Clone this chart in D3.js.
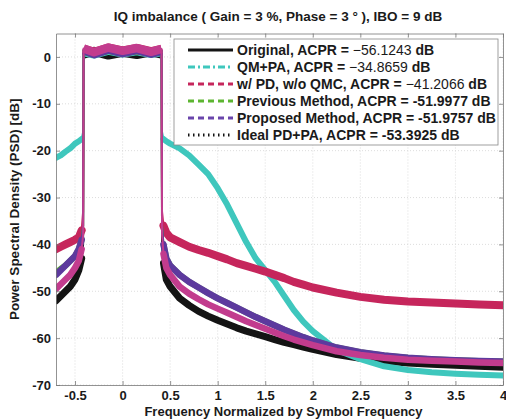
<!DOCTYPE html>
<html lang="en">
<head>
  <meta charset="UTF-8" />
  <title>IQ imbalance PSD</title>
  <script src="https://cdn.jsdelivr.net/npm/d3@7"></script>
  <style>
    body {
      margin: 0;
      background-color: white;
      font-family: "Liberation Sans", Arial, sans-serif;
    }

    svg text {
      font-weight: bold;
      fill: #1a1a1a;
    }

    .grid line {
      stroke: #d4d4d4;
      stroke-width: 0.8;
      stroke-dasharray: 1, 2;
    }

    .axis path,
    .axis line {
      stroke: #777;
      stroke-width: 0.8;
    }

    .psd {
      fill: none;
      stroke-linejoin: round;
    }
  </style>
</head>
<body>
  <div id="chart"></div>

  <script>
    const width = 506;
    const height = 420;

    // normalized frequency grid (shared by every trace)
    const freq = [-0.7, -0.65, -0.6, -0.55, -0.5, -0.46, -0.43, -0.415,
      -0.41, -0.3, -0.15, 0, 0.15, 0.3, 0.41,
      0.415, 0.43, 0.46, 0.5, 0.6, 0.7, 0.8, 0.9, 1.0, 1.1, 1.2, 1.3, 1.4,
      1.5, 1.6, 1.7, 1.8, 1.9, 2.0, 2.25, 2.5, 2.75, 3.0, 3.25, 3.5, 3.75, 4.0];

    // PSD values in dB
    const original = [-52, -51, -50, -49, -47.5, -45.5, -43, -40,
      0.6, 1.2, 0.4, 1.0, 0.5, 1.1, 0.6,
      -40, -44, -47.5, -49, -51.5, -53, -54.3, -55.3, -56.2, -57, -57.8, -58.5, -59.1,
      -59.7, -60.3, -60.9, -61.4, -61.9, -62.4, -63.5, -64.3, -64.9, -65.3, -65.6, -65.8, -66, -66.2];

    const qmPa = [-21.5, -21, -20.2, -19.5, -18.5, -18, -17.5, -16,
      1.0, 0.5, 1.3, 0.7, 1.2, 0.6, 1.0,
      -16, -17.5, -18, -18.5, -19.5, -21, -23, -25, -28, -31.5, -35.5, -39.5, -43,
      -45.5, -48, -51, -54, -56.5, -58.5, -62.5, -64.5, -66, -66.8, -67.3, -67.6, -67.8, -68];

    const pdNoQmc = [-41, -40.5, -40, -39.5, -39, -38.5, -37, -33,
      1.6, 0.9, 1.8, 1.2, 1.7, 1.0, 1.5,
      -33, -36, -37.5, -38.5, -39.5, -40.5, -41.2, -41.8, -42.5, -43.2, -44, -44.6, -45.2,
      -45.8, -46.5, -47.2, -48, -48.6, -49.2, -50.3, -51.2, -51.8, -52.2, -52.4, -52.6, -52.8, -53];

    const previous = [-46, -45.2, -44.5, -43.5, -42.5, -41, -39, -36,
      1.3, 0.7, 1.5, 0.9, 1.4, 0.8, 1.2,
      -36, -40, -43, -44.5, -46.5, -48, -49.2, -50.4, -51.5, -52.5, -53.5, -54.5, -55.5,
      -56.4, -57.3, -58.2, -59, -59.8, -60.5, -62, -63, -63.7, -64.2, -64.5, -64.7, -64.9, -65];

    const proposed = [-46.5, -45.5, -44.5, -43.5, -42.5, -41, -39, -36,
      1.4, 0.6, 1.6, 0.8, 1.5, 0.7, 1.3,
      -36, -40, -43, -44.5, -46.5, -48, -49.2, -50.4, -51.5, -52.5, -53.5, -54.5, -55.5,
      -56.4, -57.3, -58.2, -59, -59.8, -60.5, -62, -63, -63.7, -64.2, -64.5, -64.7, -64.9, -65];

    const idealPdPa = [-49.5, -48.5, -47.5, -46.5, -45, -43.5, -41, -38,
      1.8, 1.0, 2.0, 1.3, 1.9, 1.1, 1.7,
      -38, -42, -45, -46.5, -49, -50.5, -51.7, -52.8, -53.7, -54.6, -55.5, -56.4, -57.2,
      -58, -58.8, -59.6, -60.3, -60.9, -61.5, -62.8, -63.6, -64.2, -64.6, -64.8, -65, -65.2, -65.3];

    const seriesNames = ["Original", "QM+PA", "w/ PD, w/o QMC",
      "Previous Method", "Proposed Method", "Ideal PD+PA"];
    const acpr = ["\u221256.1243", "\u221234.8659", "\u221241.2066",
      "-51.9977", "-51.9757", "-53.3925"];
    const seriesValues = [original, qmPa, pdNoQmc, previous, proposed, idealPdPa];

    const xTicks = [-0.5, 0, 0.5, 1, 1.5, 2, 2.5, 3, 3.5, 4];
    const yTicks = [0, -10, -20, -30, -40, -50, -60, -70];

    // styles per series
    const traceColors = ["#141414", "#3fc7bd", "#c6265c", "#5db531", "#5d3a9e", "#c23c8e"];
    const legendColors = ["#141414", "#3fc7bd", "#c6265c", "#5db531", "#6a45ab", "#141414"];
    const traceWidths = [7, 6, 8, 6, 6.5, 6.5];
    const legendDash = [null, "7,3,2,3", "6,4", "6,4", "6,4", "1.5,3.5"];
    const numberWeight = ["normal", "normal", "normal", "bold", "bold", "bold"];

    // index ranges drawn thick: left skirt, in-band, right skirt
    const parts = [[0, 7], [8, 15], [16, freq.length]];

    const x = d3.scaleLinear().domain([-0.7, 4]).range([56, 503]);
    const y = d3.scaleLinear().domain([-70, 5]).range([385, 33.5]);

    const svg = d3.select("#chart")
      .append("svg")
      .attr("width", width)
      .attr("height", height);

    // grid
    svg.append("g")
      .attr("class", "grid")
      .selectAll("line.v")
      .data(xTicks)
      .enter()
      .append("line")
      .attr("x1", d => x(d))
      .attr("x2", d => x(d))
      .attr("y1", y.range()[1])
      .attr("y2", y.range()[0]);

    svg.append("g")
      .attr("class", "grid")
      .selectAll("line.h")
      .data(yTicks)
      .enter()
      .append("line")
      .attr("x1", x.range()[0])
      .attr("x2", x.range()[1])
      .attr("y1", d => y(d))
      .attr("y2", d => y(d));

    // traces
    svg.append("clipPath").attr("id", "plot-clip")
      .append("rect")
      .attr("x", x.range()[0])
      .attr("y", y.range()[1])
      .attr("width", x.range()[1] - x.range()[0])
      .attr("height", y.range()[0] - y.range()[1]);

    const line = d3.line()
      .x(d => x(d[0]))
      .y(d => y(d[1]));

    const traces = svg.append("g")
      .attr("clip-path", "url(#plot-clip)")
      .selectAll("g")
      .data(seriesValues)
      .enter()
      .append("g")
      .attr("stroke", (d, i) => traceColors[i]);

    // thick strokes stand in for the noise spread of each trace
    traces.each(function(vals, i) {
      const g = d3.select(this);
      const pts = vals.map((v, k) => [freq[k], v]);
      parts.forEach(([a, b], p) => {
        g.append("path")
          .attr("class", "psd")
          .attr("d", line(pts.slice(a, b)))
          .attr("stroke-linecap", p === 1 ? "butt" : "round")
          .attr("stroke-width", p === 1 ? traceWidths[i] + 2 : traceWidths[i]);
      });
      // thin full path keeps the steep band edges narrow
      g.append("path")
        .attr("class", "psd")
        .attr("d", line(pts))
        .attr("stroke-width", 2);
    });

    // axes, matlab style (box with inward ticks)
    const xAxis = d3.axisBottom(x).tickValues(xTicks).tickSizeInner(-4).tickSizeOuter(0)
      .tickPadding(6).tickFormat(d => d);
    const yAxis = d3.axisLeft(y).tickValues(yTicks).tickSizeInner(-4).tickSizeOuter(0)
      .tickPadding(5).tickFormat(d => d === 0 ? "0" : "-" + Math.abs(d));

    svg.append("g")
      .attr("class", "axis")
      .attr("transform", `translate(0, ${y.range()[0]})`)
      .call(xAxis);

    svg.append("g")
      .attr("class", "axis")
      .attr("transform", `translate(${x.range()[0]}, 0)`)
      .call(yAxis);

    svg.append("g")
      .attr("class", "axis")
      .attr("transform", `translate(0, ${y.range()[1]})`)
      .call(d3.axisTop(x).tickValues(xTicks).tickSizeInner(-4).tickSizeOuter(0).tickFormat(""));

    svg.append("g")
      .attr("class", "axis")
      .attr("transform", `translate(${x.range()[1]}, 0)`)
      .call(d3.axisRight(y).tickValues(yTicks).tickSizeInner(-4).tickSizeOuter(0).tickFormat(""));

    svg.selectAll(".axis text")
      .attr("font-family", "Liberation Sans, Arial, sans-serif")
      .attr("font-size", 13)
      .attr("font-weight", "bold")
      .attr("fill", "#1a1a1a");

    // title and labels
    svg.append("text")
      .attr("x", 278)
      .attr("y", 21)
      .attr("text-anchor", "middle")
      .attr("font-size", 13.5)
      .text("IQ imbalance ( Gain = 3 %, Phase = 3 \u00B0 ),  IBO = 9 dB");

    svg.append("text")
      .attr("x", (x.range()[0] + x.range()[1]) / 2 + 4)
      .attr("y", 416)
      .attr("text-anchor", "middle")
      .attr("font-size", 13)
      .text("Frequency Normalized by Symbol Frequency");

    svg.append("text")
      .attr("transform", `translate(19, ${(y.range()[0] + y.range()[1]) / 2}) rotate(-90)`)
      .attr("text-anchor", "middle")
      .attr("font-size", 13.5)
      .text("Power Spectral Density (PSD) [dB]");

    // legend
    const legend = svg.append("g").attr("id", "legend");

    legend.append("rect")
      .attr("x", 174)
      .attr("y", 39)
      .attr("width", 324)
      .attr("height", 106)
      .attr("fill", "white")
      .attr("stroke", "#888")
      .attr("stroke-width", 0.8);

    const rows = legend.selectAll("g.row")
      .data(seriesNames)
      .enter()
      .append("g")
      .attr("class", "row")
      .attr("transform", (d, i) => `translate(0, ${50 + i * 17})`);

    rows.append("line")
      .attr("x1", 188)
      .attr("x2", 233)
      .attr("stroke", (d, i) => legendColors[i])
      .attr("stroke-width", 3)
      .attr("stroke-dasharray", (d, i) => legendDash[i]);

    const labels = rows.append("text")
      .attr("x", 237)
      .attr("y", 5)
      .attr("font-size", 14);

    labels.append("tspan").text(d => d + ", ACPR = ");
    labels.append("tspan")
      .attr("font-weight", (d, i) => numberWeight[i])
      .text((d, i) => acpr[i]);
    labels.append("tspan").text(" dB");
  </script>
</body>
</html>
